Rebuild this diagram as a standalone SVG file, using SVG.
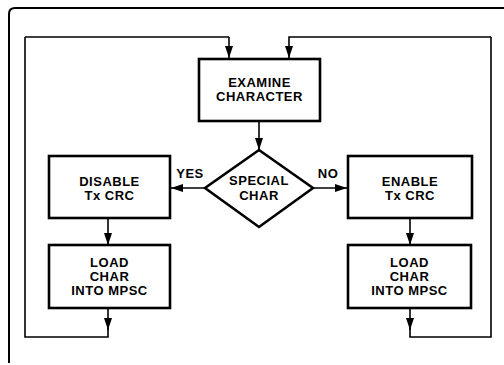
<svg xmlns="http://www.w3.org/2000/svg" width="504" height="365" viewBox="0 0 504 365">
<defs>
<style>
.box{fill:#fff;stroke:#000;stroke-width:2.6}
.ln{fill:none;stroke:#000;stroke-width:1.6}
.frame{fill:none;stroke:#000;stroke-width:2}
text{font-family:"Liberation Sans",Arial,sans-serif;font-weight:bold;font-size:13px;letter-spacing:0.5px;fill:#000;text-anchor:middle}
</style>
<marker id="ah2" markerWidth="12" markerHeight="8" refX="12" refY="4" orient="auto" markerUnits="userSpaceOnUse" viewBox="0 0 12 8">
<path d="M0,0 L12,4 L0,8 Z" fill="#000"/>
</marker>
</defs>
<rect width="504" height="365" fill="#fff"/>
<path class="frame" d="M9,363 L9,14 Q9,8 15,8 L504,8"/>
<g id="connectors">
<path class="ln" d="M229,37 L229,58" marker-end="url(#ah2)"/>
<path class="ln" d="M25,37 L229,37"/>
<path class="ln" d="M491,37 L289,37 L289,58" marker-end="url(#ah2)"/>
<path class="ln" d="M259,121 L259,150" marker-end="url(#ah2)"/>
<path class="ln" d="M205,188 L171,188" marker-end="url(#ah2)"/>
<path class="ln" d="M313,188 L347,188" marker-end="url(#ah2)"/>
<path class="ln" d="M108,219 L108,245" marker-end="url(#ah2)"/>
<path class="ln" d="M410,219 L410,245" marker-end="url(#ah2)"/>
<path class="ln" d="M108,309 L108,330" marker-end="url(#ah2)"/>
<path class="ln" d="M108,328 L108,337 L25,337 L25,37"/>
<path class="ln" d="M410,309 L410,330" marker-end="url(#ah2)"/>
<path class="ln" d="M410,328 L410,337 L491,337 L491,37"/>
<text x="190" y="178">YES</text>
<text x="328" y="178">NO</text>
</g>
<g id="examine">
<rect class="box" x="199" y="59" width="121" height="62"/>
<text x="259.5" y="87">EXAMINE</text>
<text x="259.5" y="101">CHARACTER</text>
</g>
<g id="special">
<path class="box" d="M259,150 L313,188 L259,227 L205,188 Z"/>
<text x="259" y="185">SPECIAL</text>
<text x="259" y="200">CHAR</text>
</g>
<g id="disable">
<rect class="box" x="49" y="156" width="121" height="62"/>
<text x="109.5" y="186">DISABLE</text>
<text x="109.5" y="200">Tx CRC</text>
</g>
<g id="enable">
<rect class="box" x="348" y="156" width="124" height="62"/>
<text x="410" y="186">ENABLE</text>
<text x="410" y="200">Tx CRC</text>
</g>
<g id="load-left">
<rect class="box" x="49" y="245" width="121" height="63"/>
<text x="109.5" y="267">LOAD</text>
<text x="109.5" y="281">CHAR</text>
<text x="109.5" y="295">INTO MPSC</text>
</g>
<g id="load-right">
<rect class="box" x="348" y="245" width="123" height="63"/>
<text x="409.5" y="267">LOAD</text>
<text x="409.5" y="281">CHAR</text>
<text x="409.5" y="295">INTO MPSC</text>
</g>
</svg>
